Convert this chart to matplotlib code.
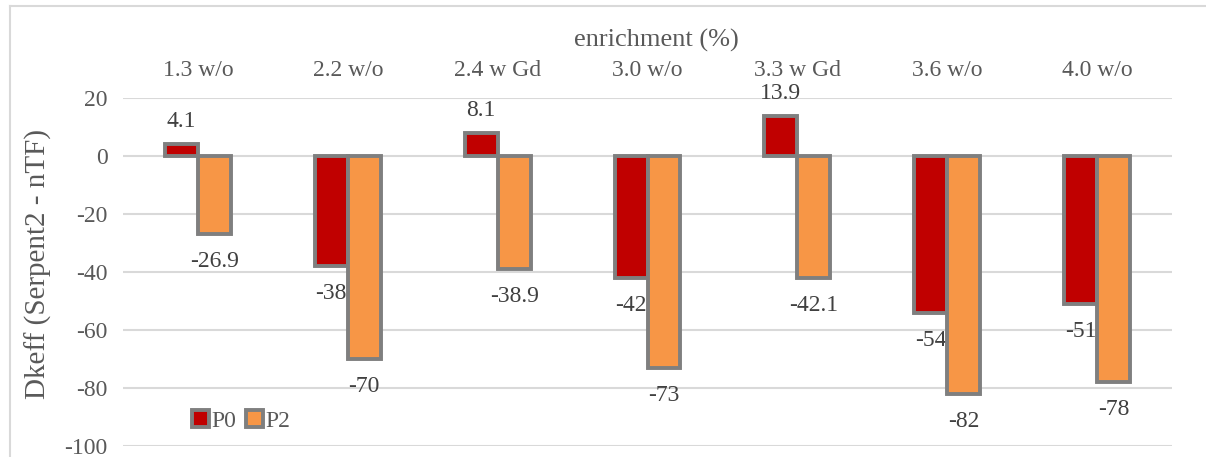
import matplotlib
matplotlib.use("Agg")
import matplotlib.pyplot as plt
from matplotlib.patches import Patch
from matplotlib.lines import Line2D
import numpy as np

categories = ["1.3 w/o", "2.2 w/o", "2.4 w Gd", "3.0 w/o", "3.3 w Gd", "3.6 w/o", "4.0 w/o"]
p0_values = [4.1, -38, 8.1, -42, 13.9, -54, -51]
p2_values = [-26.9, -70, -38.9, -73, -42.1, -82, -78]
p0_labels = ["4.1", "-38", "8.1", "-42", "13.9", "-54", "-51"]
p2_labels = ["-26.9", "-70", "-38.9", "-73", "-42.1", "-82", "-78"]
y_ticks = [20, 0, -20, -40, -60, -80, -100]

W, H = 1206, 457
plt.rcParams["font.family"] = ["Liberation Serif", "DejaVu Serif"]

fig = plt.figure(figsize=(W / 100, H / 100), dpi=100)
fig.patch.set_facecolor("white")

# plot area in pixel coordinates
left, right, top, bottom = 123, 1172, 98, 446
ax = fig.add_axes([left / W, 1 - bottom / H, (right - left) / W, (bottom - top) / H])

x = np.arange(len(categories))
bw = 0.22
edge = "#7F7F7F"
c_p0 = "#C00000"
c_p2 = "#F79646"
text_col = "#595959"
label_col = "#404040"
lw = 2.8

ax.bar(x - bw / 2, p0_values, bw, color=c_p0, edgecolor=edge, linewidth=lw, zorder=2)
ax.bar(x + bw / 2, p2_values, bw, color=c_p2, edgecolor=edge, linewidth=lw, zorder=4)

fs = 17
for xi, v, s in zip(x, p0_values, p0_labels):
    off = 16 if v >= 0 else -20
    ax.annotate(s, (xi - bw / 2, v), xytext=(0, off), textcoords="offset points",
                ha="center", va="center", fontsize=fs, color=label_col, zorder=3)
for xi, v, s in zip(x, p2_values, p2_labels):
    off = 16 if v >= 0 else -20
    ax.annotate(s, (xi + bw / 2, v), xytext=(0, off), textcoords="offset points",
                ha="center", va="center", fontsize=fs, color=label_col, zorder=5)

ax.set_xlim(-0.5, len(categories) - 0.5)
ax.set_ylim(-100, 20)
ax.set_yticks(y_ticks)
ax.set_yticklabels([str(t) for t in y_ticks])
ax.set_xticks(x)
ax.set_xticklabels(categories)
ax.xaxis.tick_top()
ax.tick_params(axis="x", length=0, pad=12, labelsize=fs, labelcolor=text_col)
ax.tick_params(axis="y", length=0, pad=11, labelsize=fs, labelcolor=text_col)
ax.grid(axis="y", color="#D9D9D9", linewidth=1.5, zorder=0)
ax.set_axisbelow(True)
for sp in ax.spines.values():
    sp.set_visible(False)

fig.text(656 / W, 1 - 40 / H, "enrichment (%)", ha="center", va="center",
         fontsize=19, color=text_col)
fig.text(38 / W, 1 - 264 / H, "Dkeff (Serpent2 - nTF)", ha="center", va="center",
         rotation=90, fontsize=21, color=text_col)

handles = [Patch(facecolor=c_p0, edgecolor=edge, linewidth=lw, label="P0"),
           Patch(facecolor=c_p2, edgecolor=edge, linewidth=lw, label="P2")]
leg = ax.legend(handles=handles, loc="center left", bbox_to_anchor=(192 / W, 1 - 421 / H),
                bbox_transform=fig.transFigure, ncol=2, frameon=False, fontsize=fs,
                handlelength=0.7, handleheight=0.7, handletextpad=0.1, columnspacing=0.45,
                borderpad=0, borderaxespad=0)
for t in leg.get_texts():
    t.set_color(text_col)

# chart frame
fig.add_artist(Line2D([10 / W, 10 / W], [-0.1, 1 - 6 / H], transform=fig.transFigure,
                      color="#D9D9D9", linewidth=1.5))
fig.add_artist(Line2D([10 / W, 1.1], [1 - 6 / H, 1 - 6 / H], transform=fig.transFigure,
                      color="#D9D9D9", linewidth=1.5))

fig.savefig("out.png", dpi=100, facecolor="white")
